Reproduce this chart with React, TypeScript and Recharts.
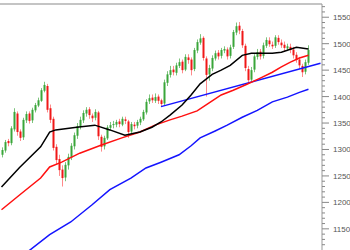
import React from "react";
import { ComposedChart, Bar, Line, XAxis, YAxis, ReferenceLine } from "recharts";

// daily candles, left to right
const OPEN = [
  1290, 1298, 1316, 1312, 1338, 1368, 1334, 1323, 1355, 1368, 1355, 1374, 1383, 1392, 1411, 1420, 1378, 1358, 1305, 1282,
  1262, 1247, 1270, 1285, 1306, 1326, 1343, 1355, 1368, 1376, 1364, 1360, 1370, 1324, 1306, 1321, 1341, 1347, 1347, 1353,
  1347, 1357, 1353, 1334, 1347, 1345, 1351, 1357, 1370, 1391, 1398, 1392, 1400, 1393, 1387, 1426, 1441, 1451, 1445, 1458,
  1466, 1451, 1474, 1470, 1452, 1487, 1502, 1511, 1472, 1442, 1453, 1472, 1483, 1477, 1487, 1489, 1477, 1494, 1521, 1534,
  1524, 1496, 1452, 1432, 1451, 1475, 1485, 1477, 1496, 1506, 1498, 1496, 1511, 1502, 1498, 1491, 1494, 1489, 1479, 1470,
  1458, 1447, 1464,
];
const HIGH = [
  1304, 1318, 1320, 1344, 1378, 1372, 1338, 1360, 1372, 1372, 1379, 1388, 1398, 1416, 1428, 1424, 1385, 1362, 1310, 1290,
  1270, 1276, 1292, 1312, 1332, 1350, 1362, 1374, 1380, 1380, 1368, 1376, 1373, 1328, 1326, 1346, 1352, 1354, 1356, 1358,
  1362, 1362, 1356, 1352, 1352, 1356, 1362, 1375, 1395, 1404, 1404, 1406, 1404, 1396, 1432, 1448, 1458, 1458, 1464, 1472,
  1470, 1480, 1480, 1474, 1492, 1508, 1518, 1514, 1476, 1460, 1478, 1487, 1488, 1492, 1495, 1493, 1498, 1526, 1540, 1541,
  1528, 1500, 1458, 1456, 1480, 1490, 1490, 1502, 1512, 1512, 1504, 1516, 1516, 1508, 1504, 1500, 1500, 1494, 1484, 1475,
  1462, 1470, 1497,
];
const LOW = [
  1285, 1294, 1306, 1308, 1334, 1326, 1316, 1318, 1350, 1349, 1350, 1370, 1380, 1390, 1408, 1370, 1350, 1298, 1272, 1250,
  1230, 1240, 1262, 1280, 1300, 1320, 1338, 1350, 1362, 1358, 1352, 1355, 1318, 1296, 1300, 1318, 1336, 1340, 1342, 1342,
  1344, 1348, 1322, 1330, 1338, 1340, 1346, 1354, 1366, 1386, 1388, 1388, 1386, 1381, 1384, 1420, 1436, 1440, 1440, 1454,
  1444, 1448, 1462, 1440, 1448, 1482, 1498, 1468, 1400, 1430, 1448, 1468, 1470, 1472, 1482, 1470, 1472, 1490, 1516, 1518,
  1492, 1448, 1425, 1428, 1446, 1470, 1470, 1472, 1492, 1494, 1490, 1492, 1498, 1492, 1486, 1486, 1482, 1472, 1464, 1452,
  1437, 1442, 1460,
];
const CLOSE = [
  1299, 1314, 1312, 1340, 1371, 1333, 1322, 1356, 1367, 1354, 1375, 1384, 1393, 1412, 1422, 1375, 1356, 1303, 1280, 1261,
  1246, 1271, 1286, 1307, 1327, 1344, 1356, 1369, 1375, 1365, 1359, 1371, 1325, 1305, 1322, 1342, 1346, 1348, 1352, 1348,
  1358, 1354, 1333, 1348, 1344, 1352, 1358, 1371, 1390, 1397, 1393, 1399, 1392, 1386, 1427, 1442, 1450, 1446, 1459, 1465,
  1450, 1475, 1469, 1450, 1488, 1503, 1510, 1473, 1441, 1454, 1473, 1482, 1476, 1488, 1490, 1476, 1493, 1522, 1533, 1525,
  1497, 1454, 1431, 1450, 1476, 1484, 1476, 1497, 1507, 1499, 1495, 1512, 1503, 1497, 1492, 1495, 1488, 1478, 1469, 1459,
  1446, 1465, 1488,
];

// moving averages, read as [candle index, value]
const BLACK_MA: [number, number][] = [
  [0, 1229], [6, 1266], [13, 1305], [16, 1333], [18, 1337], [25, 1342], [31, 1346], [36, 1337], [41, 1327],
  [46, 1333], [50, 1342], [53, 1352], [56, 1365], [60, 1384], [63, 1403], [66, 1424], [70, 1442], [73, 1450],
  [76, 1459], [80, 1478], [83, 1482], [86, 1482], [90, 1482], [93, 1484], [98, 1493], [102, 1490],
];
const RED_MA: [number, number][] = [
  [0, 1186], [6, 1214], [13, 1246], [16, 1267], [20, 1276], [26, 1293], [33, 1308], [40, 1322], [46, 1333],
  [51, 1346], [56, 1356], [60, 1363], [65, 1373], [69, 1388], [73, 1403], [77, 1412], [81, 1422], [86, 1435],
  [90, 1446], [93, 1456], [96, 1465], [99, 1473], [102, 1478],
];
const BLUE_MA: [number, number][] = [
  [9, 1108], [16, 1139], [23, 1163], [30, 1195], [36, 1224], [43, 1246], [48, 1265], [53, 1276], [59, 1290],
  [63, 1307], [66, 1322], [71, 1335], [75, 1346], [80, 1361], [85, 1374], [90, 1390], [95, 1399], [99, 1408],
  [102, 1414],
];
const TREND: [number, number][] = [[53, 1381], [106, 1463]];

const SLOTS = 107;
const MAJOR_TICKS = [1150, 1200, 1250, 1300, 1350, 1400, 1450, 1500, 1550];
const ALL_TICKS = [
  1120, 1130, 1140, 1150, 1160, 1170, 1180, 1190, 1200, 1210, 1220, 1230, 1240, 1250, 1260, 1270, 1280, 1290,
  1300, 1310, 1320, 1330, 1340, 1350, 1360, 1370, 1380, 1390, 1400, 1410, 1420, 1430, 1440, 1450, 1460, 1470,
  1480, 1490, 1500, 1510, 1520, 1530, 1540, 1550, 1560, 1570,
];

const pick = (list: [number, number][], i: number) => {
  const hit = list.find((p) => p[0] === i);
  return hit ? hit[1] : undefined;
};

const rows = Array.from({ length: SLOTS }, (_, i) => ({
  i,
  o: OPEN[i],
  h: HIGH[i],
  l: LOW[i],
  c: CLOSE[i],
  range: HIGH[i] != null ? [LOW[i], HIGH[i]] : undefined,
  black: pick(BLACK_MA, i),
  red: pick(RED_MA, i),
  blue: pick(BLUE_MA, i),
  trend: pick(TREND, i),
}));

function Candle(props: any) {
  const { x, y, width, height, payload } = props;
  if (!payload || payload.h == null) return null;
  const { o, h, l, c } = payload;
  const top = Math.min(y, y + height);
  const span = Math.abs(height);
  const py = (p: number) => top + ((h - p) / (h - l)) * span;
  const up = c >= o;
  const cx = Math.round(x + width / 2) + 0.5;
  const bt = py(Math.max(o, c));
  const bb = py(Math.min(o, c));
  return (
    <g>
      <line x1={cx} x2={cx} y1={top} y2={top + span} stroke={up ? "#7cc47c" : "#ff8a8a"} strokeWidth={1} />
      <rect x={cx - 1} y={bt} width={2} height={Math.max(1, bb - bt)} fill={up ? "#3aa63a" : "#f01818"} />
    </g>
  );
}

function PriceTick(props: any) {
  const { x, y, payload } = props;
  const major = MAJOR_TICKS.includes(payload.value);
  return (
    <g>
      <line x1={x} x2={x + (major ? 7 : 3)} y1={y} y2={y} stroke="#888" />
      {major && (
        <text x={x + 11} y={y} dy={3} fontSize={8} fill="#555" fontFamily="Arial, Liberation Sans, sans-serif">
          {payload.value}
        </text>
      )}
    </g>
  );
}

export default function App() {
  return (
    <div style={{ position: "fixed", left: 0, top: 0, background: "#fff" }}>
      <ComposedChart
        width={350}
        height={250}
        data={rows}
        margin={{ top: 4, right: 0, bottom: 0, left: 0 }}
        barCategoryGap={0}
      >
        <XAxis dataKey="i" hide />
        <YAxis
          orientation="right"
          width={28}
          domain={[1110, 1575]}
          allowDataOverflow
          ticks={ALL_TICKS}
          interval={0}
          tickSize={0}
          tickMargin={0}
          tickLine={false}
          tick={<PriceTick />}
          stroke="#999"
        />
        <ReferenceLine y={1575} stroke="#c4c4c4" strokeWidth={2} />
        <Bar dataKey="range" shape={<Candle />} isAnimationActive={false} />
        <Line dataKey="blue" stroke="#1414ff" strokeWidth={1.5} dot={false} connectNulls isAnimationActive={false} />
        <Line dataKey="trend" stroke="#1414ff" strokeWidth={1.5} dot={false} connectNulls isAnimationActive={false} />
        <Line dataKey="red" stroke="#ff1010" strokeWidth={1.5} dot={false} connectNulls isAnimationActive={false} />
        <Line dataKey="black" stroke="#000" strokeWidth={1.5} dot={false} connectNulls isAnimationActive={false} />
      </ComposedChart>
    </div>
  );
}
